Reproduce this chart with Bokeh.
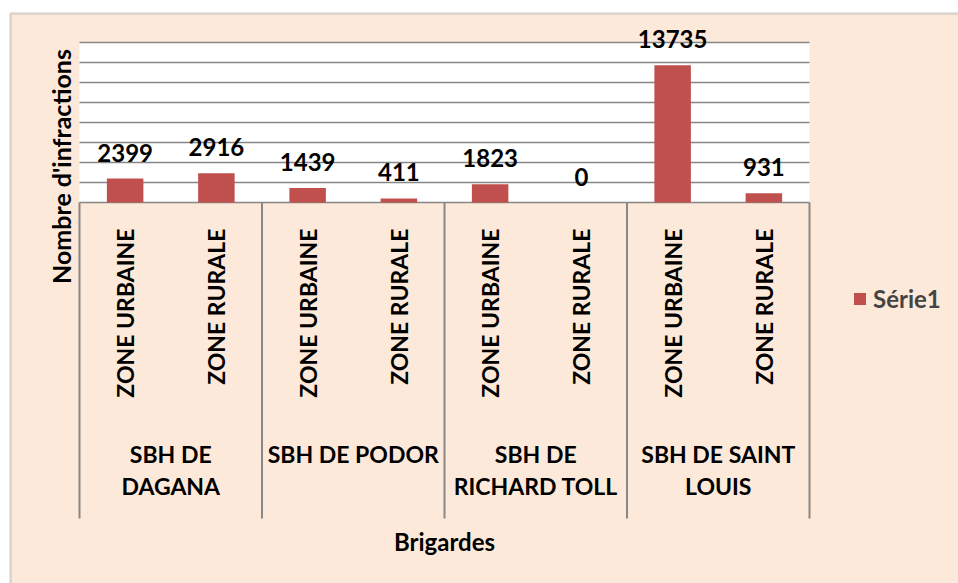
from math import pi
from bokeh.plotting import figure
from bokeh.models import Range1d, ColumnDataSource, BoxAnnotation, Legend, LegendItem
from bokeh.core.properties import value
from bokeh.embed import file_html
from bokeh.resources import INLINE

# ---------------- data ----------------
groups = ["SBH DE DAGANA", "SBH DE PODOR", "SBH DE RICHARD TOLL", "SBH DE SAINT LOUIS"]
group_labels = ["SBH DE\nDAGANA", "SBH DE PODOR", "SBH DE\nRICHARD TOLL", "SBH DE SAINT\nLOUIS"]
zones = ["ZONE URBAINE", "ZONE RURALE"]
values = [2399, 2916, 1439, 411, 1823, 0, 13735, 931]
series_name = "Série1"
y_ticks = [0, 2000, 4000, 6000, 8000, 10000, 12000, 14000, 16000]
y_title = "Nombre d'infractions"
x_title = "Brigardes"

# ---------------- style / layout ----------------
W, H = 958, 583
PEACH = "#FDE9D9"
BAR = "#C0504D"
GRID = "#878787"
FONT = value("Lato")

PLOT_LEFT, PLOT_RIGHT = 79.0, 809.0      # pixel extent of the plot area
PLOT_TOP, PLOT_BOTTOM = 42.0, 202.0
n_cat = len(groups) * len(zones)
CAT_W = (PLOT_RIGHT - PLOT_LEFT) / n_cat
UNITS_PER_PX = y_ticks[-1] / (PLOT_BOTTOM - PLOT_TOP)


def xd(px):  # pixel column -> category axis coordinate (category i centred on i)
    return (px - PLOT_LEFT) / CAT_W - 0.5


def yd(py):  # pixel row -> value axis coordinate
    return (PLOT_BOTTOM - py) * UNITS_PER_PX


cat_x = list(range(n_cat))
zone_text = [z for g in groups for z in zones]
group_x = [len(zones) * i + (len(zones) - 1) / 2 for i in range(len(groups))]
bounds = [len(zones) * i - 0.5 for i in range(len(groups) + 1)]

src = ColumnDataSource(dict(x=cat_x, v=values, lbl=[str(v) for v in values], zl=zone_text))

p = figure(width=W, height=H, x_range=Range1d(xd(0), xd(W)), y_range=Range1d(yd(H), yd(0)),
           output_backend="svg", toolbar_location=None,
           min_border_left=0, min_border_right=0, min_border_top=0, min_border_bottom=0,
           background_fill_color="white", border_fill_color="white", outline_line_color=None)
p.xaxis.visible = False
p.yaxis.visible = False
p.xgrid.visible = False
p.ygrid.visible = False

# chart area (peach, grey frame)
p.add_layout(BoxAnnotation(left=xd(10), right=xd(3000), top=yd(13), bottom=yd(3000),
                           fill_color=PEACH, fill_alpha=1, line_color="#8A8A8A",
                           line_width=2.5, level="underlay"))

# white plot area
p.quad(left=-0.5, right=n_cat - 0.5, bottom=0, top=y_ticks[-1],
       fill_color="white", line_color=None)

# horizontal grid lines (0 line doubles as category axis line)
p.segment(x0=[-0.5] * len(y_ticks), x1=[n_cat - 0.5] * len(y_ticks), y0=y_ticks, y1=y_ticks,
          line_color=GRID, line_width=1.5)

bars = p.vbar(x="x", top="v", width=0.4, source=src, fill_color=BAR, line_color=None)

# data labels
p.text(x="x", y="v", text="lbl", source=src, text_font=FONT, text_font_style="bold",
       text_font_size="24px", text_color="black", text_align="center",
       text_baseline="alphabetic", y_offset=-26)

# category (zone) labels, vertical
p.text(x="x", y=yd(228), text="zl", source=src, angle=pi / 2,
       text_font=FONT, text_font_style="bold", text_font_size="23px", text_color="black",
       text_align="right", text_baseline="middle")

# group labels
p.text(x=group_x, y=[yd(439)] * len(groups), text=group_labels,
       text_font=FONT, text_font_style="bold", text_font_size="23px", text_color="black",
       text_align="center", text_baseline="top", text_line_height=1.15)

# separators between groups
p.segment(x0=bounds, y0=[0] * len(bounds), x1=bounds, y1=[yd(518)] * len(bounds),
          line_color=GRID, line_width=2)

# axis titles
p.text(x=[xd(60)], y=[yd(166)], text=[y_title], angle=pi / 2,
       text_font=FONT, text_font_style="bold", text_font_size="25px", text_color="black",
       text_align="center", text_baseline="middle")
p.text(x=[(n_cat - 1) / 2], y=[yd(541)], text=[x_title],
       text_font=FONT, text_font_style="bold", text_font_size="24px", text_color="black",
       text_align="center", text_baseline="middle")

# legend
legend = Legend(items=[LegendItem(label=series_name, renderers=[bars])],
                location=(852, H - 313), padding=0, margin=0, spacing=0,
                glyph_width=15, glyph_height=15, label_standoff=6,
                label_text_font="Lato", label_text_font_style="bold",
                label_text_font_size="24px", border_line_color=None,
                background_fill_alpha=0)
p.add_layout(legend, "center")

open("out.html", "w").write(file_html(p, INLINE))
